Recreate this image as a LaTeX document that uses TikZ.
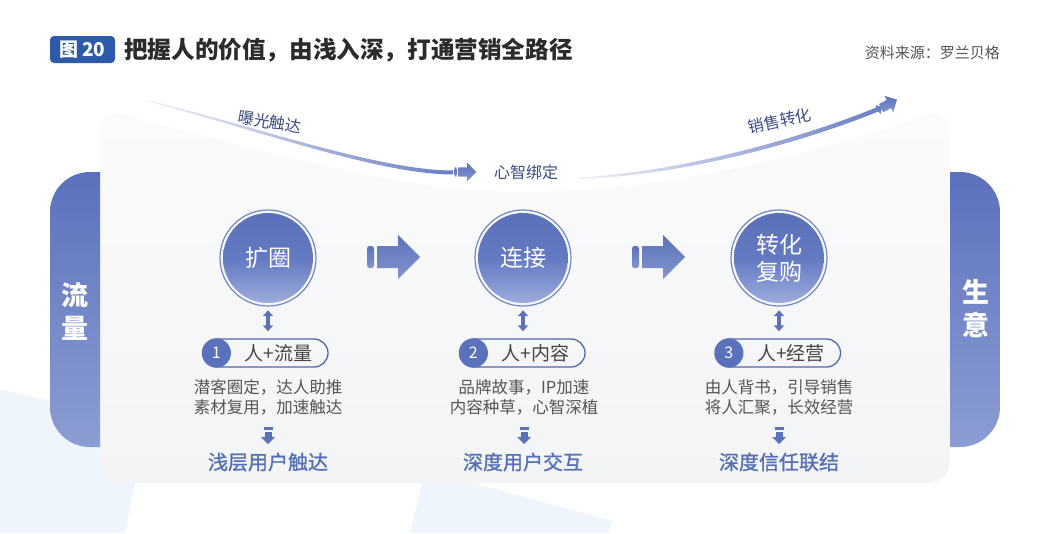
\documentclass[tikz,border=0pt]{standalone}
\usepackage{fontspec}
\setmainfont{Noto Sans CJK SC}
\newfontfamily\semibold[FakeBold=1.2]{Noto Sans CJK SC}
\usetikzlibrary{arrows.meta}

\definecolor{mainblue}{HTML}{5A72BC}
\definecolor{badgeblue}{HTML}{2E5BA9}
\definecolor{labelblue}{HTML}{5570B5}
\definecolor{pillblue}{HTML}{4D67B3}
\definecolor{ringblue}{HTML}{7086C8}
\definecolor{bgblue}{HTML}{EEF5FD}
\definecolor{paneltop}{HTML}{FBFBFC}
\definecolor{panelbot}{HTML}{F3F4F6}
\definecolor{tabtop}{HTML}{5B71BD}
\definecolor{tabbot}{HTML}{8C9DD3}
\definecolor{circtop}{HTML}{5A70BA}
\definecolor{circmid}{HTML}{6379C1}
\definecolor{circbot}{HTML}{9DACDD}
\definecolor{arctext}{HTML}{3D4B85}
\definecolor{titlegray}{HTML}{2B2B2B}
\definecolor{descgray}{HTML}{555555}
\definecolor{pillgray}{HTML}{444444}
\definecolor{arcstart}{HTML}{F0F2F8}
\definecolor{arcend}{HTML}{6A7EC5}

\tikzset{
  panel/.style={top color=paneltop, bottom color=panelbot},
  tabshade/.style={top color=tabtop, bottom color=tabbot},
  tabtext/.style={text=white, align=center, inner sep=0pt, font=\fontsize{27}{33}\selectfont\bfseries},
  circ/.style={circle, minimum size=90pt, inner sep=0pt, top color=circtop, bottom color=circbot, middle color=circmid, text=white, align=center, font=\fontsize{23}{27}\selectfont},
  ring/.style={draw=ringblue, line width=1.2pt},
  arrowshade/.style={top color=mainblue, bottom color=mainblue!75!white},
  bigarrow/.pic={
    \shade[arrowshade, rounded corners=2.5pt] (-26,-11) rectangle (-19,11);
    \shade[arrowshade] (-16,-11) -- (5,-11) -- (5,-22) -- (27,0) -- (5,22) -- (5,11) -- (-16,11) -- cycle;
  },
  downarr/.pic={
    \fill[mainblue] (-4.5,-8) rectangle (4.5,-5.5);
    \fill[mainblue] (-3.5,-3.5) rectangle (3.5,2.5);
    \fill[mainblue] (-7,2) -- (7,2) -- (0,9) -- cycle;
  },
  dbl/.style={mainblue, line width=4pt, {Triangle[width=10pt,length=6pt]}-{Triangle[width=10pt,length=6pt]}},
  pill/.style={draw=pillblue, line width=1.3pt, rounded corners=14pt, minimum width=125pt, minimum height=28pt, inner sep=0pt},
  numtext/.style={text=white, inner sep=0pt, font=\fontsize{16}{18}\selectfont},
  pilltext/.style={text=pillgray, inner sep=0pt, font=\fontsize{19}{22}\selectfont},
  desc/.style={text=descgray, align=center, inner sep=0pt, font=\fontsize{16.5}{20}\selectfont},
  bottomlabel/.style={text=labelblue, inner sep=0pt, font=\fontsize{20}{24}\selectfont\semibold},
  arclabel/.style={text=arctext, inner sep=0pt, font=\fontsize{16}{19}\selectfont},
  badge/.style={fill=badgeblue, rounded corners=4pt, minimum width=65pt, minimum height=27pt, inner sep=0pt, text=white, font=\fontsize{19}{22}\selectfont\bfseries},
  titletext/.style={text=titlegray, inner sep=0pt, font=\fontsize{23.6}{27}\selectfont\bfseries},
  srctext/.style={text=descgray, inner sep=0pt, font=\fontsize{15}{18}\selectfont},
}

\begin{document}
\begin{tikzpicture}[x=1pt,y=-1pt]
\useasboundingbox (0,0) rectangle (1056,533);
\fill[white] (0,0) rectangle (1056,533);

% light blue background shapes
\fill[bgblue] (0,390) -- (147,421) -- (125,533) -- (0,533) -- cycle;
\fill[bgblue] (425,470) -- (612,521) -- (608,533) -- (410,533) -- cycle;

% main panel
\shade[panel] (100,135) .. controls (100,118) and (108,112) .. (122,114)
  .. controls (260,150) and (400,192) .. (522,192)
  .. controls (650,192) and (800,160) .. (928,114)
  .. controls (942,112) and (950,118) .. (950,135)
  -- (950,458) .. controls (950,475) and (942,483) .. (925,483)
  -- (125,483) .. controls (108,483) and (100,475) .. (100,458) -- cycle;

% side tabs
\begin{scope}
  \clip (50,160) rectangle (100,460);
  \shade[tabshade, rounded corners=40pt] (50,172) rectangle (150,447);
\end{scope}
\begin{scope}
  \clip (950,160) rectangle (1000,460);
  \shade[tabshade, rounded corners=40pt] (900,172) rectangle (1000,447);
\end{scope}
\node[tabtext] (tabL) at (75,311) {流\\量};
\node[tabtext] (tabR) at (976,309) {生\\意};

% title
\node[badge] (badge) at (82.5,49.5) {图\,20};
\node[titletext, anchor=west] (title) at (124,50) {把握人的价值，由浅入深，打通营销全路径};
\node[srctext, anchor=east] (src) at (1000,53) {资料来源：罗兰贝格};

% top curves
\shade[left color=arcstart, right color=arcend]
  (148,100) .. controls (260,128) and (380,170.5) .. (453,170.5)
  -- (453,174.5) .. controls (380,174.5) and (260,131) .. (148,101.5) -- cycle;
\shade[left color=arcstart, right color=arcend]
  (578,177.5) .. controls (680,172) and (800,139) .. (880,106)
  -- (882,110) .. controls (802,143) and (680,176) .. (578,179) -- cycle;
\pic[scale=0.42] at (465,172) {bigarrow};
\pic[scale=0.42, rotate=28] at (887,105) {bigarrow};
\node[arclabel, rotate=-10] (arcL) at (270,122) {曝光触达};
\node[arclabel] (arcM) at (526,172) {心智绑定};
\node[arclabel, rotate=12] (arcR) at (780,121) {销售转化};

% circles
\node[circ] (c1) at (268,258) {扩圈};
\node[circ] (c2) at (523,258) {连接};
\node[circ] (c3) at (779,258) {转化\\复购};
\foreach \c in {c1,c2,c3} \draw[ring] (\c.center) circle[radius=48pt];

% big arrows
\pic at (393,257) {bigarrow};
\pic at (658,257) {bigarrow};

% pills
\node[pill] (p1) at (265.5,353) {};
\node[pill] (p2) at (522.5,353) {};
\node[pill] (p3) at (778,353) {};
\foreach \p/\n in {p1/1,p2/2,p3/3} {
  \fill[mainblue] (\p.west) ++(14,0) circle[radius=14.6pt];
  \node[numtext] (n\n) at ([xshift=14pt]\p.west) {\n};
}
\node[pilltext] (t1) at ([xshift=13pt]p1.center) {人+流量};
\node[pilltext] (t2) at ([xshift=13pt]p2.center) {人+内容};
\node[pilltext] (t3) at ([xshift=13pt]p3.center) {人+经营};

% double arrows
\draw[dbl, shorten <=7pt, shorten >=7pt] (c1.south) -- (c1.south |- p1.north);
\draw[dbl, shorten <=7pt, shorten >=7pt] (c2.south) -- (c2.south |- p2.north);
\draw[dbl, shorten <=7pt, shorten >=7pt] (c3.south) -- (c3.south |- p3.north);

% descriptions
\node[desc] (d1) at (268,397) {潜客圈定，达人助推\\素材复用，加速触达};
\node[desc] (d2) at (524,397) {品牌故事，IP加速\\内容种草，心智深植};
\node[desc] (d3) at (779,397) {由人背书，引导销售\\将人汇聚，长效经营};

% down arrows
\pic at (268,435) {downarr};
\pic at (524,435) {downarr};
\pic at (779,435) {downarr};

% bottom labels
\node[bottomlabel] (b1) at (268,462) {浅层用户触达};
\node[bottomlabel] (b2) at (523,462) {深度用户交互};
\node[bottomlabel] (b3) at (779,462) {深度信任联结};
\end{tikzpicture}
\end{document}
